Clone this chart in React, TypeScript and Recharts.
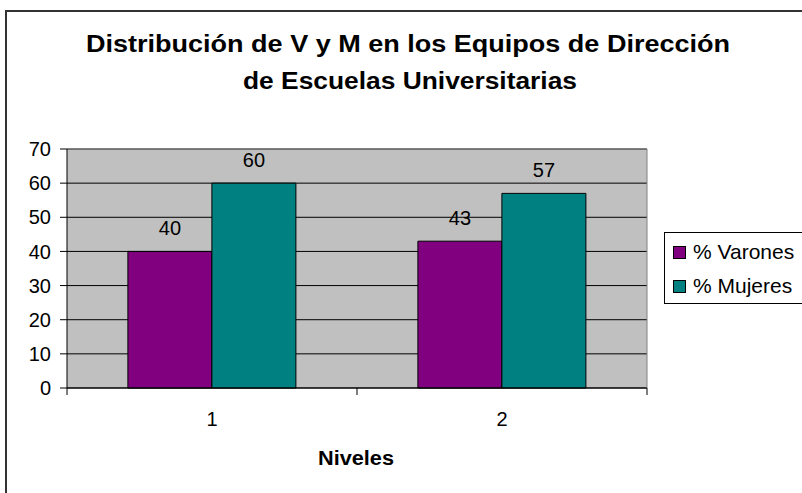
import React from "react";
import {
  BarChart,
  Bar,
  XAxis,
  YAxis,
  CartesianGrid,
  LabelList,
} from "recharts";

const categories = ["1", "2"];
const varones = [40, 43];
const mujeres = [60, 57];
const yTicks = [0, 10, 20, 30, 40, 50, 60, 70];

const seriesNames = ["% Varones", "% Mujeres"];
const seriesColors = ["#800080", "#008080"];

const data = categories.map((c, i) => ({
  nivel: c,
  varones: varones[i],
  mujeres: mujeres[i],
  edge: i + 0.5,
}));

// tick marks sit on the category boundaries, not on the centers
const edgeTicks = [...categories.map((_, i) => i), categories.length];

const font = "'Liberation Sans', Arial, sans-serif";

const NoLabel = () => <g />;

const App: React.FC = () => {
  return (
    <div style={{ position: "absolute", left: 0, top: 0, width: 802, height: 493, overflow: "hidden", background: "#fff", fontFamily: font }}>
      {/* outer chart frame, runs off right/bottom like the original */}
      <div style={{ position: "absolute", left: 5, top: 10, width: 810, height: 500, borderLeft: "2px solid #333", borderTop: "2px solid #333" }} />

      <div style={{ position: "absolute", left: 0, top: 0 }}>
        <BarChart
          width={802}
          height={493}
          data={data}
          margin={{ top: 148, right: 154, bottom: 65, left: 17 }}
          barCategoryGap="21%"
          barGap={0}
        >
          <CartesianGrid xAxisId="b-cat" fill="#C0C0C0" stroke="#000" vertical={false} />
          <XAxis
            xAxisId="a-edges"
            type="number"
            dataKey="edge"
            domain={[0, categories.length]}
            ticks={edgeTicks}
            tick={NoLabel}
            tickSize={7}
            tickLine={{ stroke: "#000" }}
            axisLine={{ stroke: "#000" }}
            height={1}
          />
          <XAxis
            xAxisId="b-cat"
            dataKey="nivel"
            tickLine={false}
            axisLine={false}
            tickSize={0}
            tickMargin={23}
            height={39}
            tick={{ fill: "#000", fontSize: 20, fontFamily: font }}
          />
          <XAxis
            xAxisId="top"
            orientation="top"
            dataKey="nivel"
            tick={false}
            tickLine={false}
            axisLine={{ stroke: "#808080" }}
            height={1}
          />
          <YAxis
            domain={[0, 70]}
            ticks={yTicks}
            interval={0}
            width={50}
            tickSize={7}
            tickMargin={9}
            tickLine={{ stroke: "#000" }}
            axisLine={{ stroke: "#000" }}
            tick={{ fill: "#000", fontSize: 20, fontFamily: font }}
          />
          <YAxis
            yAxisId="right"
            orientation="right"
            domain={[0, 70]}
            width={1}
            tick={false}
            tickLine={false}
            axisLine={{ stroke: "#808080" }}
          />
          <Bar xAxisId="b-cat" dataKey="varones" name={seriesNames[0]} fill={seriesColors[0]} stroke="#000" strokeWidth={1} isAnimationActive={false}>
            <LabelList dataKey="varones" position="top" offset={16} fill="#000" fontSize={20} fontFamily={font} />
          </Bar>
          <Bar xAxisId="b-cat" dataKey="mujeres" name={seriesNames[1]} fill={seriesColors[1]} stroke="#000" strokeWidth={1} isAnimationActive={false}>
            <LabelList dataKey="mujeres" position="top" offset={16} fill="#000" fontSize={20} fontFamily={font} />
          </Bar>
        </BarChart>
      </div>

      {/* title and axis title, stretched like the source image */}
      <svg width={802} height={493} style={{ position: "absolute", left: 0, top: 0, pointerEvents: "none" }}>
        <text x={86} y={52} textLength={644} lengthAdjust="spacingAndGlyphs" fontFamily={font} fontWeight="bold" fontSize={23} fill="#000">
          Distribución de V y M en los Equipos de Dirección
        </text>
        <text x={243} y={89} textLength={334} lengthAdjust="spacingAndGlyphs" fontFamily={font} fontWeight="bold" fontSize={23} fill="#000">
          de Escuelas Universitarias
        </text>
        <text x={318} y={465} textLength={76} lengthAdjust="spacingAndGlyphs" fontFamily={font} fontWeight="bold" fontSize={20} fill="#000">
          Niveles
        </text>
      </svg>

      {/* legend box */}
      <div style={{ position: "absolute", left: 664, top: 232, width: 160, height: 72, border: "1px solid #000", background: "#fff", paddingTop: 2, boxSizing: "border-box" }}>
        {seriesNames.map((name, i) => (
          <div key={name} style={{ display: "flex", alignItems: "center", height: 34, paddingLeft: 8 }}>
            <span style={{ width: 11, height: 11, background: seriesColors[i], border: "1px solid #000", display: "inline-block", marginRight: 7 }} />
            <span style={{ fontSize: 21, color: "#000", whiteSpace: "nowrap" }}>{name}</span>
          </div>
        ))}
      </div>
    </div>
  );
};

export default App;
